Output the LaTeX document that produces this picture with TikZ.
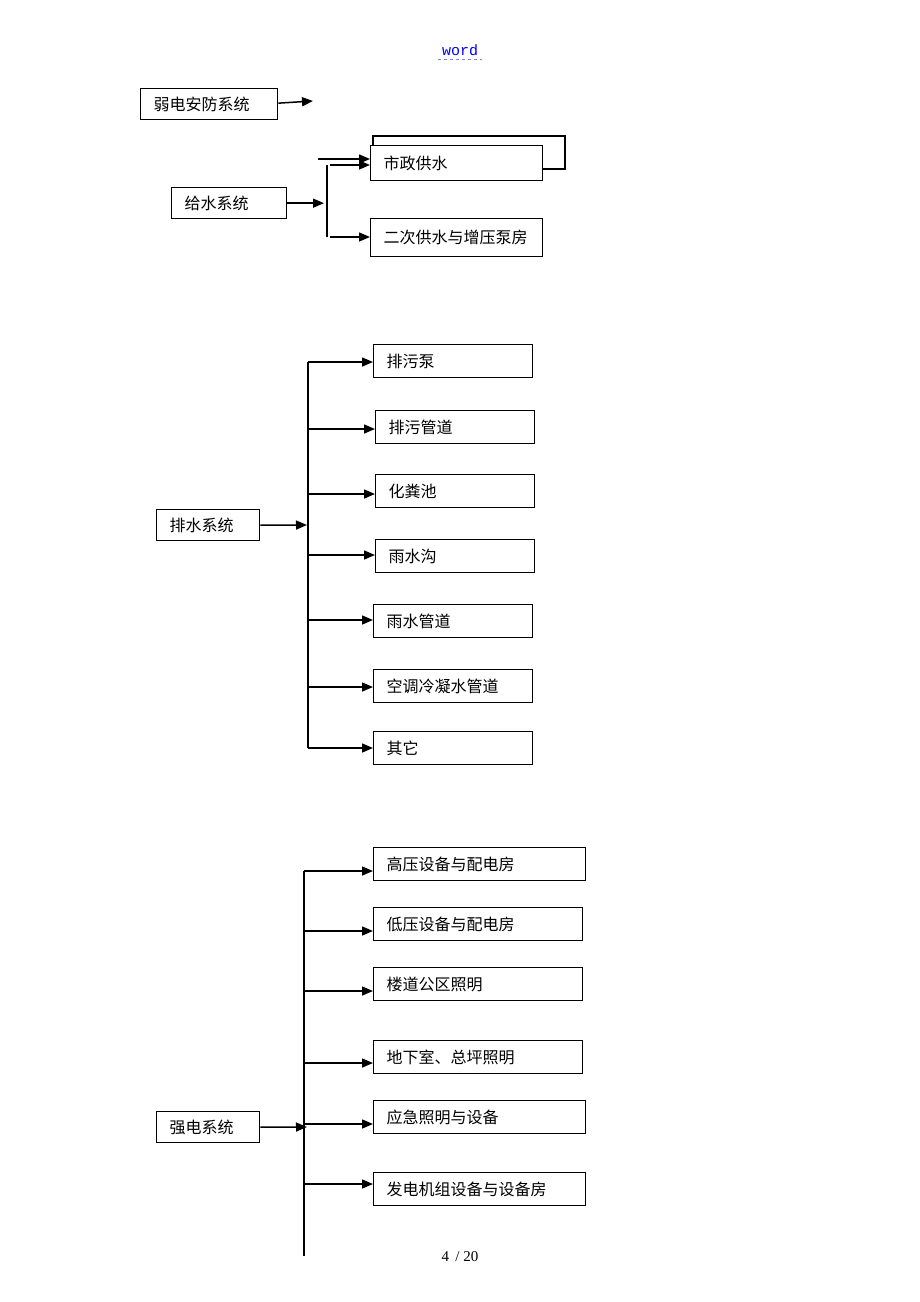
\documentclass[tikz,border=0pt]{standalone}
\usepackage{fontspec}
\setmainfont{Liberation Serif}
\newfontfamily\cjk{Noto Sans CJK SC}
\newfontfamily\hdrfont{Liberation Mono}
\usetikzlibrary{arrows.meta,positioning}

\begin{document}
\begin{tikzpicture}[
        %We set the units (one unit is one pixel) and define some styles
        x=1pt, y=-1pt,
        box/.style={draw, line width=1.3pt, anchor=north west, inner xsep=13pt,
            text width=#1, align=left, minimum height=33pt,
            font=\cjk\fontsize{16}{19}\selectfont},
        main box/.style={box=#1, minimum height=31pt},
        arr/.style={line width=1.5pt, -{Triangle[length=11pt,width=9pt]}},
        bus line/.style={line width=1.3pt},
        every node/.style={color=black,}
     ]
    \useasboundingbox (0,0) rectangle (920,1302);
    % Header and page number
    \node[text=blue, font=\hdrfont\fontsize{15}{18}\selectfont] (hdr) at (460,50) {word};
    \draw[blue!50, dashed, line width=0.8pt] ([yshift=-0.5pt]hdr.south west) -- ([yshift=-0.5pt]hdr.south east);
    \node[font=\fontsize{15}{18}\selectfont] (pg) at (460,1257) {4\, / 20};

    % Weak current system
    \node[main box=111pt] (rd) at (140,88) {弱电安防系统};
    \coordinate (rdend) at (313,101);
    \draw[arr] ([yshift=1pt]rd.east) -- (rdend);

    % Water supply system
    \draw[line width=1.3pt] (373,136) rectangle (565,169);
    \node[box=146pt, fill=white, minimum height=35pt] (sz) at (370,145) {市政供水};
    \node[box=146pt, minimum height=38pt] (ec) at (370,218) {二次供水与增压泵房};
    \node[main box=89pt] (gs) at (171,187) {给水系统};
    \coordinate (gtop) at (327,165);
    \coordinate (gbot) at (327,237);
    \coordinate (gin) at (318,159);
    \draw[bus line] (gtop) -- (gbot);
    \draw[arr] (gs.east) -- ([xshift=-3pt]gs.east -| gtop);
    \draw[arr] (gin) -- (sz.west |- gin);
    \draw[arr] ([xshift=3pt]gtop) -- (sz.west |- gtop);
    \draw[arr] ([xshift=3pt]gbot) -- (ec.west |- gbot);

    % Drainage system
    \node[main box=77pt] (ps) at (156,509) {排水系统};
    \coordinate (pstop) at (308,362);
    \coordinate (psbot) at (308,748);
    \draw[bus line] (pstop) -- (psbot);
    \coordinate (psin) at (307,525);
    \draw[arr] (ps.east) -- (psin);
    \foreach \n/\x/\y/\ay/\t in {1/373/344/362/排污泵, 2/375/410/429/排污管道,
            3/375/474/494/化粪池, 4/375/539/555/雨水沟, 5/373/604/620/雨水管道,
            6/373/669/687/空调冷凝水管道, 7/373/731/748/其它}{
        \node[box=133pt] (ps\n) at (\x,\y) {\t};
        \coordinate (psb\n) at (308,\ay);
        \draw[arr] (psb\n) -- (ps\n.west |- psb\n);
    }

    % Strong current system
    \node[main box=77pt] (qd) at (156,1111) {强电系统};
    \coordinate (qdtop) at (304,871);
    \coordinate (qdbot) at (304,1256);
    \draw[bus line] (qdtop) -- (qdbot);
    \coordinate (qdin) at (307,1127);
    \draw[arr] (qd.east) -- (qdin);
    \foreach \n/\y/\ay/\w/\t in {1/847/871/186pt/高压设备与配电房, 2/907/931/183pt/低压设备与配电房,
            3/967/991/183pt/楼道公区照明, 4/1040/1063/183pt/地下室、总坪照明,
            5/1100/1124/186pt/应急照明与设备, 6/1172/1184/186pt/发电机组设备与设备房}{
        \node[box=\w] (qd\n) at (373,\y) {\t};
        \coordinate (qdb\n) at (304,\ay);
        \draw[arr] (qdb\n) -- (qd\n.west |- qdb\n);
    }
\end{tikzpicture}
\end{document}
